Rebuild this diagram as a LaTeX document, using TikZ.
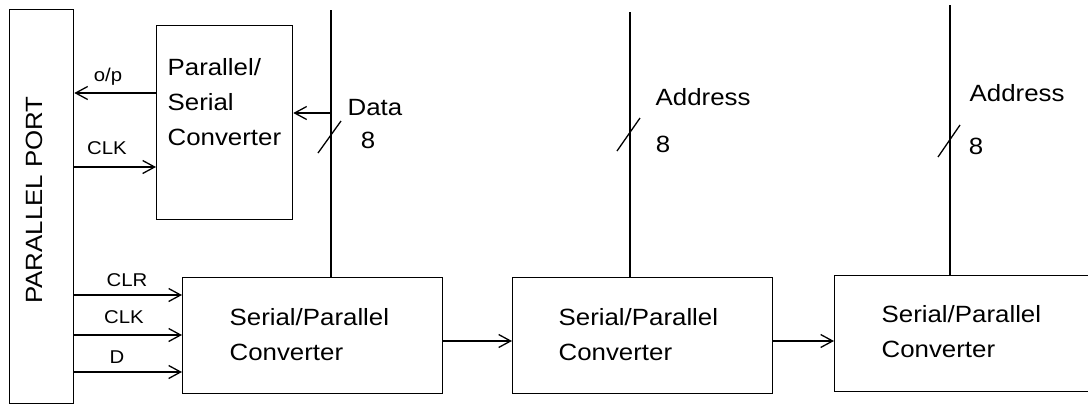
\documentclass[tikz,border=0pt]{standalone}
\usepackage{fontspec}
\setmainfont{Liberation Sans}[FakeStretch=1.1]
\usetikzlibrary{arrows.meta,calc}
\begin{document}
\begin{tikzpicture}[x=1pt,y=-1pt,
  line width=1.3pt,
  box/.style={draw,rectangle,inner sep=0pt,anchor=north west},
  arr/.style={-{Straight Barb[length=12pt,width=13pt,line width=1.3pt]}},
  big/.style={font=\fontsize{23.5}{35}\selectfont,inner sep=0pt,align=left},
  small/.style={font=\fontsize{18.5}{22}\selectfont,inner sep=0pt},
]
\useasboundingbox (0,0) rectangle (1088,405);

% blocks
\node[box,minimum width=64pt,minimum height=394pt] (port) at (9,9) {};
\node[big,rotate=90] (porttext) at (34,200) {PARALLEL PORT};
\node[box,minimum width=136pt,minimum height=194pt] (ps) at (156,25) {};
\node[big,anchor=west] (pstext) at (167,102) {Parallel/\\Serial\\Converter};
\node[box,minimum width=260pt,minimum height=116pt] (sp1) at (182,277) {};
\node[big,anchor=west] (sp1text) at (229,335) {Serial/Parallel\\Converter};
\node[box,minimum width=260pt,minimum height=116pt] (sp2) at (512,277) {};
\node[big,anchor=west] (sp2text) at (558,335) {Serial/Parallel\\Converter};
\node[box,minimum width=300pt,minimum height=116pt] (sp3) at (834,275) {};
\node[big,anchor=west] (sp3text) at (881,332) {Serial/Parallel\\Converter};

% signal rows
\coordinate (yop) at (0,93);
\coordinate (yclka) at (0,167);
\coordinate (yclr) at (0,295);
\coordinate (yclkb) at (0,335);
\coordinate (yd) at (0,372);
\coordinate (ydata) at (0,113);
\coordinate (ychain) at (0,341);

% port <-> converters
\draw[arr] (ps.west |- yop) -- (port.east |- yop);
\node[small] (lop) at (108,77) {o/p};
\draw[arr] (port.east |- yclka) -- (ps.west |- yclka);
\node[small] (lclka) at (107,148) {CLK};
\draw[arr] (port.east |- yclr) -- (sp1.west |- yclr);
\node[small] (lclr) at (127,280) {CLR};
\draw[arr] (port.east |- yclkb) -- (sp1.west |- yclkb);
\node[small] (lclkb) at (124,317) {CLK};
\draw[arr] (port.east |- yd) -- (sp1.west |- yd);
\node[small] (ld) at (117,357) {D};

% chain of serial/parallel converters
\draw[arr] (sp1.east |- ychain) -- (sp2.west |- ychain);
\draw[arr] (sp2.east |- ychain) -- (sp3.west |- ychain);

% data bus
\coordinate (dtop) at (331,10);
\draw (dtop) -- (dtop |- sp1.north);
\draw[arr] (dtop |- ydata) -- (ps.east |- ydata);
\coordinate (ds1) at (318,153);
\coordinate (ds2) at (341,121);
\draw (ds1) -- (ds2);
\node[big,anchor=west] (ldata) at (347,108) {Data};
\node[big] (ld8) at (368,140) {8};

% address bus 1
\coordinate (atop) at (630,12);
\draw (atop) -- (atop |- sp2.north);
\coordinate (as1) at (617,151);
\coordinate (as2) at (640,118);
\draw (as1) -- (as2);
\node[big,anchor=west] (laddr) at (655,97) {Address};
\node[big] (la8) at (663,144) {8};

% address bus 2
\coordinate (btop) at (950,5);
\draw (btop) -- (btop |- sp3.north);
\coordinate (bs1) at (938,157);
\coordinate (bs2) at (960,125);
\draw (bs1) -- (bs2);
\node[big,anchor=west] (lbddr) at (969,93) {Address};
\node[big] (lb8) at (976,146) {8};
\end{tikzpicture}
\end{document}
